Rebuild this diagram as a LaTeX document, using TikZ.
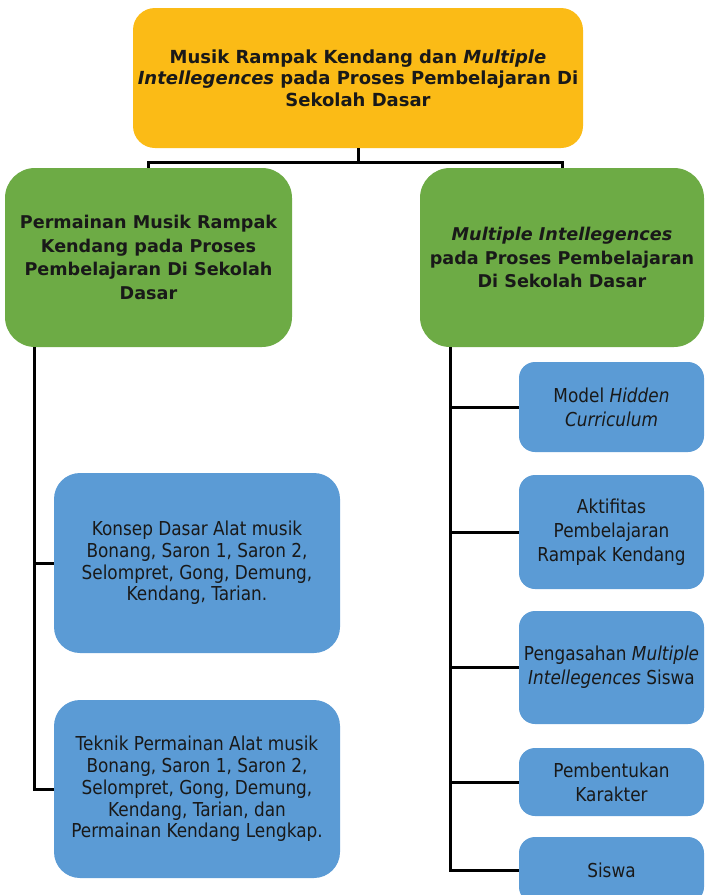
\documentclass[tikz,border=0pt]{standalone}
\usepackage{fontspec}
\setmainfont{DejaVu Sans}[FakeStretch=0.88, BoldFeatures={FakeStretch=1.0}, BoldItalicFeatures={FakeStretch=1.0}]
\definecolor{kuning}{HTML}{FBBB16}
\definecolor{hijau}{HTML}{6DAB45}
\definecolor{biru}{HTML}{5B9BD5}
\tikzset{
  kotak/.style={inner sep=0pt, align=center, text=black!90},
  judulbox/.style={kotak, fill=kuning, rounded corners=22pt, minimum width=450pt, minimum height=140pt,
    font=\bfseries\fontsize{18}{21.5}\selectfont},
  hijaubox/.style={kotak, fill=hijau, rounded corners=30pt, minimum height=179pt,
    font=\bfseries\fontsize{17.6}{23.5}\selectfont},
  birubox/.style={kotak, fill=biru, rounded corners=26pt, minimum width=286pt,
    font=\fontsize{19.2}{21.7}\selectfont},
  birukecil/.style={kotak, fill=biru, rounded corners=16pt, minimum width=185pt,
    font=\fontsize{19.2}{24}\selectfont},
  garis/.style={line width=3pt}
}
\begin{document}
\begin{tikzpicture}[x=1pt,y=-1pt]
\useasboundingbox (0,0) rectangle (706,895);
\node [judulbox] (judul) at (358,78) {Musik Rampak Kendang dan \textit{Multiple}\\
  \textit{Intellegences} pada Proses Pembelajaran Di\\ Sekolah Dasar};
\node [hijaubox, minimum width=287pt] (perm) at (148.5,257.5) {Permainan Musik Rampak\\
  Kendang pada Proses\\ Pembelajaran Di Sekolah\\ Dasar};
\node [hijaubox, minimum width=284pt] (mi) at (562,257.5) {\textit{Multiple Intellegences}\\
  pada Proses Pembelajaran\\ Di Sekolah Dasar};
\node [birubox, minimum height=180pt] (konsep) at (197,563) {Konsep Dasar Alat musik\\
  Bonang, Saron 1, Saron 2,\\ Selompret, Gong, Demung,\\ Kendang, Tarian.};
\node [birubox, minimum height=178pt] (teknik) at (197,789) {Teknik Permainan Alat musik\\
  Bonang, Saron 1, Saron 2,\\ Selompret, Gong, Demung,\\ Kendang, Tarian, dan\\ Permainan Kendang Lengkap.};
\node [birukecil, minimum height=90pt] (model) at (611.5,407) {Model \textit{Hidden}\\ \textit{Curriculum}};
\node [birukecil, minimum height=114pt] (aktif) at (611.5,532) {Aktifitas\\ Pembelajaran\\ Rampak Kendang};
\node [birukecil, minimum height=113pt] (asah) at (611.5,667.5) {Pengasahan \textit{Multiple}\\
  \textit{Intellegences} Siswa};
\node [birukecil, minimum height=68pt] (karakter) at (611.5,782) {Pembentukan\\ Karakter};
\node [birukecil, minimum height=66pt] (siswa) at (611.5,870) {Siswa};
\coordinate (atas) at (358,162);
\coordinate (kiri) at ([xshift=30pt]perm.south west);
\coordinate (kanan) at ([xshift=31pt]mi.south west);
\draw [garis] (judul.south) -- (atas);
\draw [garis] (perm.north) |- (atas) -| (mi.north);
\draw [garis] (kiri) |- (konsep.west);
\draw [garis] (kiri) |- (teknik.west);
\draw [garis] (kanan) |- (model.west);
\draw [garis] (kanan) |- (aktif.west);
\draw [garis] (kanan) |- (asah.west);
\draw [garis] (kanan) |- (karakter.west);
\draw [garis] (kanan) |- (siswa.west);
\end{tikzpicture}
\end{document}
